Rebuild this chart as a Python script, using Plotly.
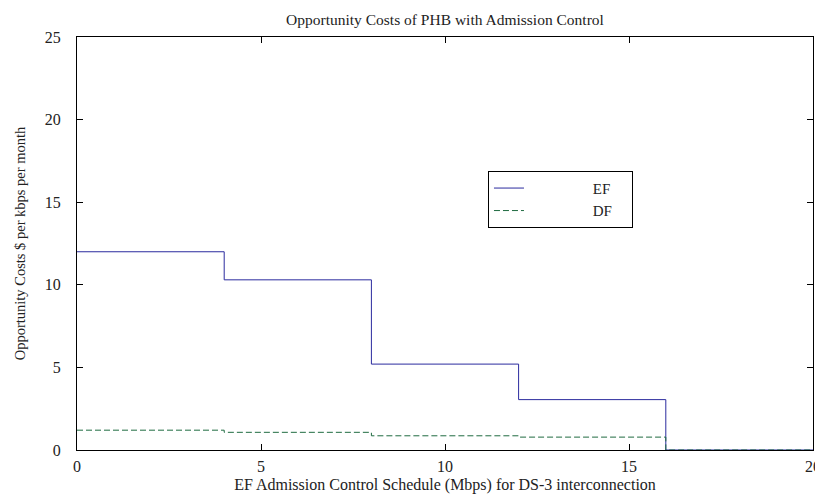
import plotly.graph_objects as go

schedule_mbps = [0, 4, 8, 12, 16, 20]
ef_cost = [12.0, 10.3, 5.2, 3.05, 0.0, 0.0]
df_cost = [1.2, 1.07, 0.86, 0.78, 0.0, 0.0]
x_ticks = [0, 5, 10, 15, 20]
y_ticks = [0, 5, 10, 15, 20, 25]

NB = "\u00a0"
fig = go.Figure()
fig.add_trace(go.Scatter(
    x=schedule_mbps, y=ef_cost, mode="lines", line_shape="hv",
    name=NB * 17 + "EF" + NB * 4,
    line=dict(color="#2b2b9e", width=1),
))
fig.add_trace(go.Scatter(
    x=schedule_mbps, y=df_cost, mode="lines", line_shape="hv",
    name=NB * 17 + "DF" + NB * 4,
    line=dict(color="#1f6b40", width=1, dash="6px,3px"),
))

font = "Liberation Serif, Times New Roman, serif"
axis_common = dict(
    showgrid=False, zeroline=False, showline=True, linecolor="black",
    linewidth=1, mirror="ticks", ticks="inside", ticklen=6,
    tickcolor="black", tickwidth=1, ticklabeloverflow="allow",
    automargin=False,
    tickfont=dict(family=font, size=16, color="#222222"),
)
fig.update_xaxes(range=[0, 20], tickvals=x_ticks, ticklabelstandoff=2,
                 title=dict(text="EF Admission Control Schedule (Mbps) for DS-3 interconnection",
                            font=dict(family=font, size=16, color="#222222"), standoff=4),
                 **axis_common)
fig.update_yaxes(range=[0, 25], tickvals=y_ticks, ticklabelstandoff=12,
                 title=dict(text="Opportunity Costs $ per kbps per month",
                            font=dict(family=font, size=14.5, color="#222222"), standoff=15),
                 **axis_common)

fig.update_layout(
    width=815, height=496,
    margin=dict(l=77, r=2, t=37, b=46, autoexpand=False),
    paper_bgcolor="white", plot_bgcolor="white",
    title=dict(text="Opportunity Costs of PHB with Admission Control",
               x=0.546, xanchor="center", y=0.96, yanchor="middle",
               font=dict(family=font, size=15.5, color="#222222")),
    legend=dict(x=0.5584, y=0.607, xanchor="left", yanchor="middle",
                bordercolor="black", borderwidth=1, bgcolor="white",
                font=dict(family=font, size=15, color="#222222"),
                tracegroupgap=0, itemwidth=30),
    showlegend=True,
)

fig.write_html("out.html")
